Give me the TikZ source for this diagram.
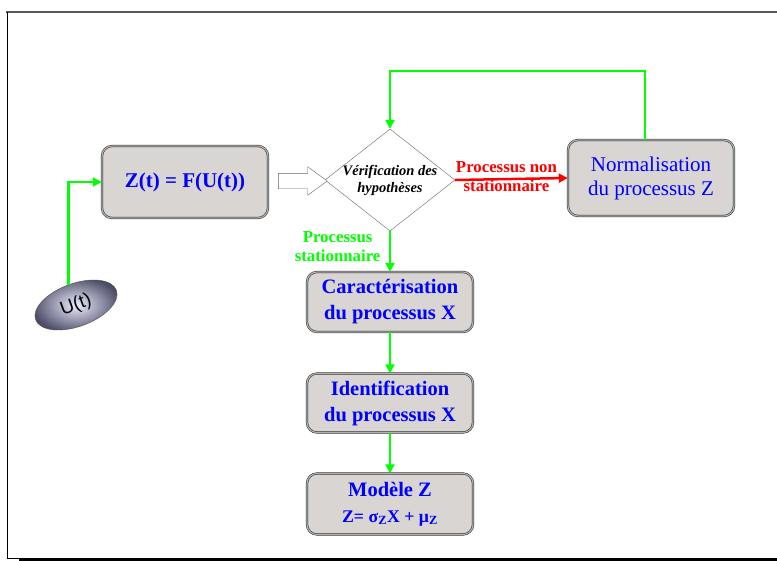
\documentclass[tikz,border=0pt]{standalone}
\usepackage{fontspec}
\setmainfont{Liberation Serif}
\newfontfamily\sansfont{Liberation Sans}
\usetikzlibrary{arrows.meta,shapes.geometric,shapes.arrows}
\definecolor{vert}{RGB}{0,255,0}
\definecolor{bleu}{RGB}{0,0,255}
\definecolor{rouge}{RGB}{255,0,0}
\definecolor{fond}{RGB}{216,213,210}

\begin{document}
\begin{tikzpicture}[x=1pt,y=-1pt,
    boite/.style={draw=black!85, double=gray!60, double distance=1.2pt, line width=0.5pt,
        rounded corners=10pt, fill=fond, text=bleu, align=center, minimum width=166pt,
        font=\fontsize{20.5}{26}\selectfont\bfseries},
    fleche/.style={draw=vert, line width=2.5pt, -{Triangle[length=9pt,width=9pt]}},
    etiquette/.style={align=center, font=\fontsize{16.8}{19}\selectfont\bfseries}
    ]
    \useasboundingbox (0,0) rectangle (777,560);
    % cadre
    \draw[gray!70!black, line width=2pt] (6,12) -- (777,12);
    \draw[black, line width=0.8pt] (7,12) -- (7,558) -- (777,558);
    \draw[black, line width=3pt] (19,559.5) -- (777,559.5);

    \node[boite, minimum height=72pt, font=\fontsize{21}{26}\selectfont\bfseries] (F) at (185,182) {Z(t) = F(U(t))};
    \node[diamond, draw=gray!80!black, fill=white, aspect=1.27, minimum width=130pt,
        minimum height=102pt, inner sep=-3pt, align=center,
        font=\fontsize{14.5}{17}\selectfont\bfseries\itshape] (V) at (390,180) {Vérification des\\hypothèses};
    \node[boite, minimum height=76pt, font=\fontsize{21}{24}\selectfont] (N) at (651,178) {Normalisation\\du processus Z};
    \node[boite, minimum height=60pt] (C) at (390,302) {Caractérisation\\du processus X};
    \node[boite, minimum height=59pt] (I) at (390,403) {Identification\\du processus X};
    \node[boite, minimum height=61pt] (M) at (390,504) {Modèle Z\\{\fontsize{17.8}{20}\selectfont Z= σ\textsubscript{Z}X + μ\textsubscript{Z}}};

    \node[ellipse, draw=gray!60!black, shade, inner color={rgb,255:red,236;green,236;blue,255},
        outer color=gray!85!blue!70!black, minimum width=86pt, minimum height=43pt, rotate=20,
        font=\sansfont\fontsize{19}{20}\selectfont] (U) at (76,305) {U(t)};

    \node[single arrow, draw=gray!80!black, fill=white, minimum height=49pt,
        single arrow head extend=6.5pt, single arrow tip angle=72, inner sep=7.5pt] (A) at (297.5,181) {};

    \draw[fleche] (U.north) |- (F.west);
    \draw[fleche, draw=rouge] (V.east) -- (N.west)
        node[midway, etiquette, text=rouge, xshift=-5pt, yshift=2pt] (lnon) {Processus non\\stationnaire};
    \draw[fleche] (V.south) -- (C.north)
        node[midway, left, etiquette, text=vert, xshift=-5pt, yshift=5pt] (lstat) {Processus\\stationnaire};
    \coordinate (T) at (645,71);
    \draw[fleche] (N.north -| T) -- (T) -| (V.north);
    \draw[fleche] (C.south) -- (I.north);
    \draw[fleche] (I.south) -- (M.north);
\end{tikzpicture}
\end{document}
